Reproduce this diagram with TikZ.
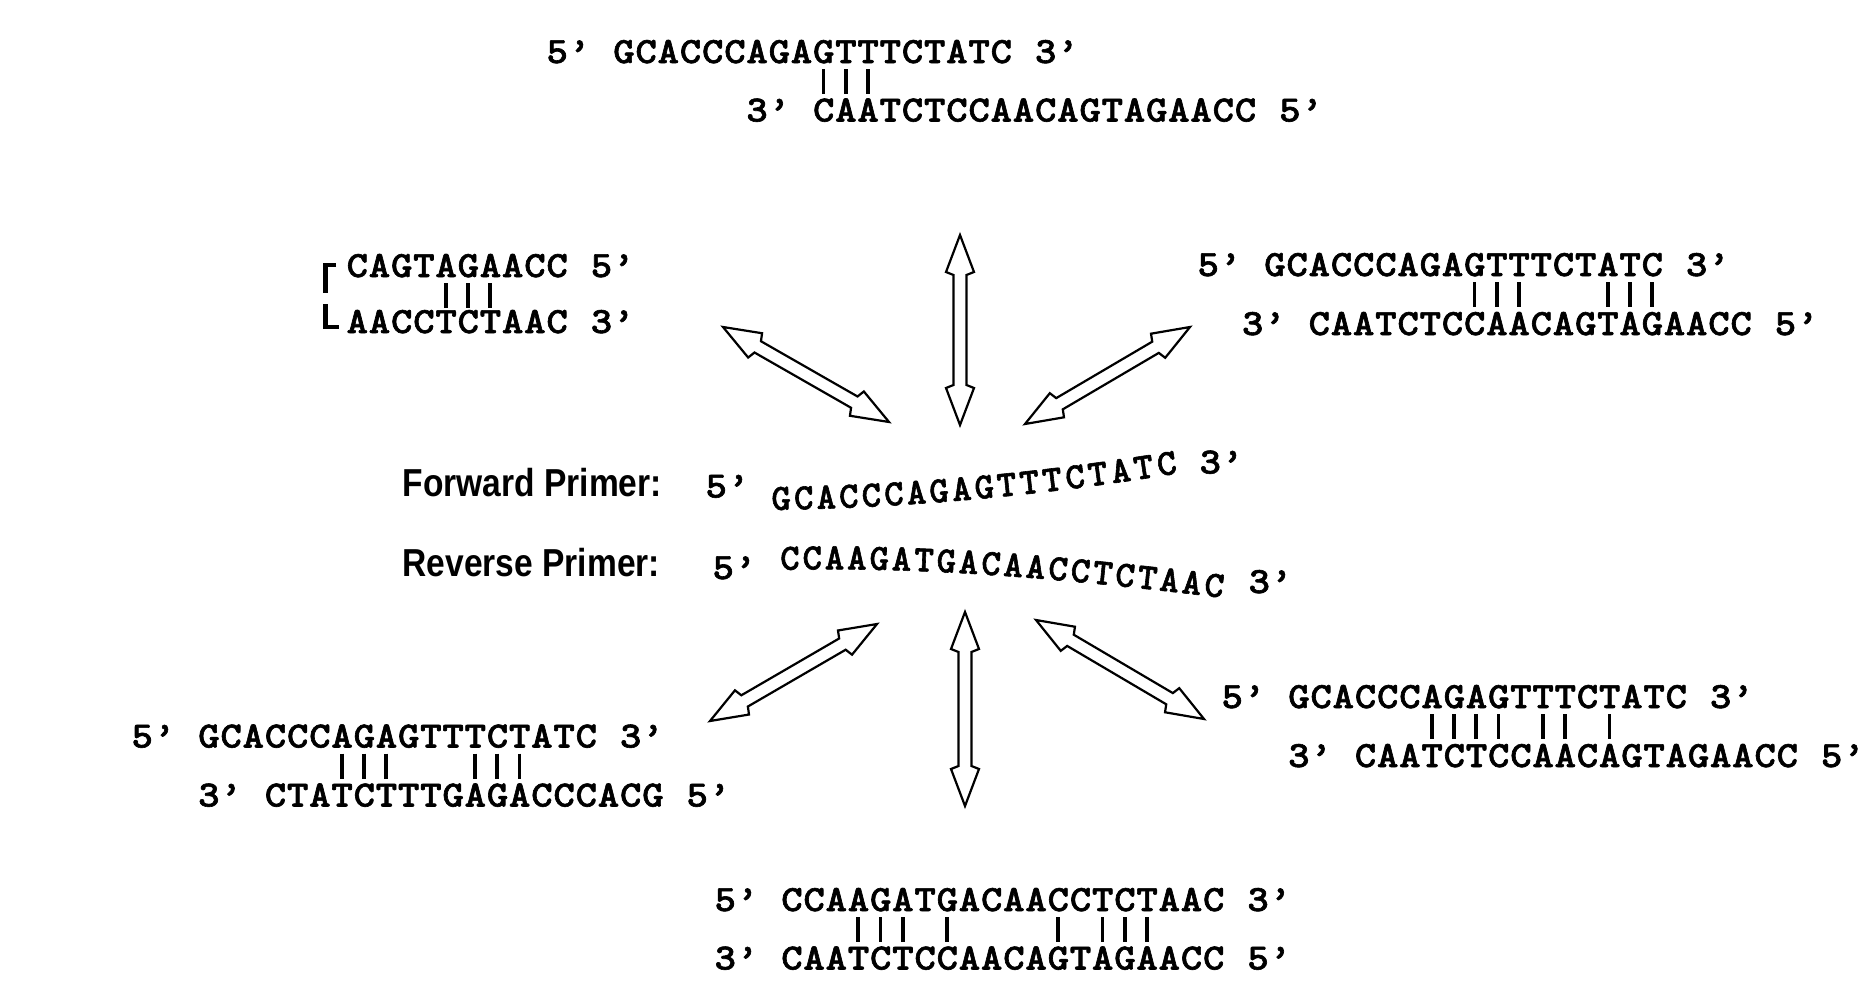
\documentclass[tikz,border=0pt]{standalone}
\usepackage{fontspec}
\usepackage{graphicx}
\usetikzlibrary{calc}
\newfontfamily\labelfont{Liberation Sans}[FakeStretch=0.86]
\newfontfamily\basefont{lmmonolt10-bold.otf}[FakeBold=1.6]

\makeatletter
% fixed pitch of one base, in pt
\newcommand\seqcw{22.2}
\newcommand\seqfontsel{\fontsize{37}{42}\selectfont\basefont}
\newcommand\seqglyph[1]{\makebox[\seqcw pt][c]{\scalebox{1.1}[1]{#1}}}
\newcommand\curveglyph[1]{\makebox[18pt][c]{\scalebox{1.0}[1]{#1}}}
\newcommand\seqtext[1]{\@tfor\seq@ch:=#1\do{\seqglyph{\seq@ch}}}
\makeatother

% base-pairing ticks under the given columns of a strand node
\newcommand\pairbars[2]{%
  \foreach \k in {#2}{%
    \draw[pairbar] ([shift={({(\k+0.5)*\seqcw},6)}]#1.base west) -- ++(0,25);}}

% open double-headed block arrow between two named coordinates
\newcommand\dblarrow[2]{%
  \path let \p1=($(#2)-(#1)$), \n1={atan2(\y1,\x1)}, \n2={veclen(\x1,\y1)} in
    \pgfextra{\pgfmathparse{\n1}\xdef\arrang{\pgfmathresult}%
              \pgfmathparse{\n2}\xdef\arrlen{\pgfmathresult}};
  \begin{scope}[shift={(#1)}, rotate=\arrang]
    \draw[openarrow] (0pt,0pt) -- (37pt,14pt) -- (40pt,6.5pt)
      -- ({\arrlen-40},6.5pt) -- ({\arrlen-37},14pt) -- ({\arrlen},0pt)
      -- ({\arrlen-37},-14pt) -- ({\arrlen-40},-6.5pt)
      -- (40pt,-6.5pt) -- (37pt,-14pt) -- cycle;
  \end{scope}}

\begin{document}
\begin{tikzpicture}[x=1pt, y=-1pt,
  seq/.style={font=\seqfontsel, inner sep=0pt, anchor=base west},
  seqch/.style={font=\seqfontsel, inner sep=0pt},
  primerlabel/.style={font=\fontsize{39}{44}\selectfont\labelfont\bfseries,
    inner sep=0pt, anchor=base west},
  pairbar/.style={line width=3.8pt},
  bracket/.style={line width=4.8pt, line cap=butt, line join=miter},
  openarrow/.style={draw=black, fill=white, line width=2.2pt, line join=miter}]

\fill[white] (0,0) rectangle (1873,985);
\useasboundingbox (0,0) rectangle (1873,985);

% ---- forward primer with reverse primer (top)
\node[seq] (top1) at (546,63) {\seqtext{5’~GCACCCAGAGTTTCTATC~3’}};
\node[seq] (top2) at ($(top1.base west)+(9*\seqcw,58.5)$) {\seqtext{3’~CAATCTCCAACAGTAGAACC~5’}};
\pairbars{top1}{12,13,14}

% ---- reverse primer hairpin (upper left)
\node[seq] (hp1) at (346,277) {\seqtext{CAGTAGAACC~5’}};
\node[seq] (hp2) at ($(hp1.base west)+(0,56)$) {\seqtext{AACCTCTAAC~3’}};
\pairbars{hp1}{4,5,6}
\draw[bracket] (336,265) -- (325.5,265) -- (325.5,293);
\draw[bracket] (325.5,304) -- (325.5,327) -- (339,327);

% ---- forward with reverse primer (upper right)
\node[seq] (ur1) at (1197,276) {\seqtext{5’~GCACCCAGAGTTTCTATC~3’}};
\node[seq] (ur2) at ($(ur1.base west)+(2*\seqcw,59)$) {\seqtext{3’~CAATCTCCAACAGTAGAACC~5’}};
\pairbars{ur1}{12,13,14,18,19,20}

% ---- forward primer self-dimer (lower left)
\node[seq] (ll1) at (131,747.5) {\seqtext{5’~GCACCCAGAGTTTCTATC~3’}};
\node[seq] (ll2) at ($(ll1.base west)+(3*\seqcw,59)$) {\seqtext{3’~CTATCTTTGAGACCCACG~5’}};
\pairbars{ll1}{9,10,11,15,16,17}

% ---- forward with reverse primer (lower right)
\node[seq] (lr1) at (1221,708) {\seqtext{5’~GCACCCAGAGTTTCTATC~3’}};
\node[seq] (lr2) at ($(lr1.base west)+(3*\seqcw,59)$) {\seqtext{3’~CAATCTCCAACAGTAGAACC~5’}};
\pairbars{lr1}{9,10,11,12,14,15,17}

% ---- reverse primer self-dimer (bottom)
\node[seq] (bt1) at (714,911) {\seqtext{5’~CCAAGATGACAACCTCTAAC~3’}};
\node[seq] (bt2) at ($(bt1.base west)+(0,58.5)$) {\seqtext{3’~CAATCTCCAACAGTAGAACC~5’}};
\pairbars{bt1}{6,7,8,10,15,17,18,19}

% ---- primers in the centre
\node[primerlabel] (fwlabel) at (402.5,496.5) {Forward Primer:};
\node[primerlabel] (rvlabel) at (402.5,576.5) {Reverse Primer:};

\node[seq] (fw5) at (705,497.5) {\seqtext{5’}};
\coordinate (fwA) at (770,510);
\coordinate (fwB) at (906,508);
\coordinate (fwC) at (1041,496);
\coordinate (fwD) at (1180,473);
\path (fwA) .. controls (fwB) and (fwC) .. (fwD)
  \foreach[count=\i] \c in {G,C,A,C,C,C,A,G,A,G,T,T,T,C,T,A,T,C}{
    node[seqch, sloped, anchor=base, pos={(\i-0.5)/18}] (fw\i) {\curveglyph{\c}}};
\node[seq] (fw3) at (1199,473.5) {\seqtext{3’}};

\node[seq] (rv5) at (712,579) {\seqtext{5’}};
\coordinate (rvA) at (779,570);
\coordinate (rvB) at (927,566);
\coordinate (rvC) at (1076,580);
\coordinate (rvD) at (1224,598);
\path (rvA) .. controls (rvB) and (rvC) .. (rvD)
  \foreach[count=\i] \c in {C,C,A,A,G,A,T,G,A,C,A,A,C,C,T,C,T,A,A,C}{
    node[seqch, sloped, anchor=base, pos={(\i-0.5)/20}] (rv\i) {\curveglyph{\c}}};
\node[seq] (rv3) at (1248,593) {\seqtext{3’}};

% ---- arrows linking the primers to each duplex
\coordinate (a1s) at (723,327);  \coordinate (a1e) at (889,422);
\coordinate (a2s) at (960,235);  \coordinate (a2e) at (960,425);
\coordinate (a3s) at (1190,327); \coordinate (a3e) at (1025,424);
\coordinate (a4s) at (877,624);  \coordinate (a4e) at (710,721);
\coordinate (a5s) at (965,612);  \coordinate (a5e) at (965,806);
\coordinate (a6s) at (1036,620); \coordinate (a6e) at (1204,719);
\dblarrow{a1s}{a1e}
\dblarrow{a2s}{a2e}
\dblarrow{a3s}{a3e}
\dblarrow{a4s}{a4e}
\dblarrow{a5s}{a5e}
\dblarrow{a6s}{a6e}
\end{tikzpicture}
\end{document}
